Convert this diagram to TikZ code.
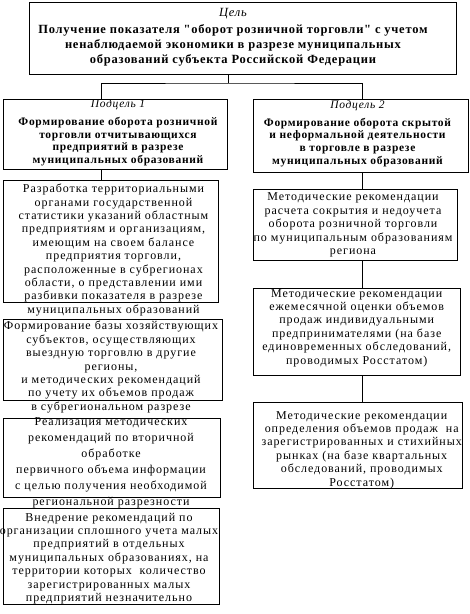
\documentclass[tikz,border=0pt]{standalone}
\usepackage{fontspec}
\setmainfont{Liberation Serif}
\newfontfamily\regfont[LetterSpace=8]{Liberation Serif}
\newfontfamily\boldsp[LetterSpace=6]{Liberation Serif}
\begin{document}
\begin{tikzpicture}[x=1pt,y=-1pt,
  boxst/.style={draw, line width=0.8pt, inner sep=0pt, rectangle},
  txt/.style={align=center, inner sep=0pt, font={\regfont\fontsize{12}{13.4}\selectfont}},
  modtxt/.style={align=center, inner sep=0pt, font={\boldsp\fontsize{11.5}{12.7}\selectfont}},
  conn/.style={line width=0.8pt}]
\useasboundingbox (0,0) rectangle (470,614);
% boxes
\node[boxst, minimum width=427pt, minimum height=72pt] (goal) at (242.5,38) {};
\node[boxst, minimum width=224pt, minimum height=70pt] (m1) at (115,134) {};
\node[boxst, minimum width=215pt, minimum height=73pt] (m2) at (360.5,135.5) {};
\node[boxst, minimum width=215pt, minimum height=122pt] (b1) at (110.5,241) {};
\node[boxst, minimum width=219pt, minimum height=81pt] (b2) at (112.5,359.5) {};
\node[boxst, minimum width=217pt, minimum height=79pt] (b3) at (111.5,457.5) {};
\node[boxst, minimum width=216pt, minimum height=96pt] (b4) at (111,556) {};
\node[boxst, minimum width=204pt, minimum height=71pt] (r1) at (355,224.5) {};
\node[boxst, minimum width=207pt, minimum height=87pt] (r2) at (356.5,331.5) {};
\node[boxst, minimum width=209pt, minimum height=86pt] (r3) at (357.5,445) {};
% texts
\node[align=center, inner sep=0pt, font={\boldsp\fontsize{12.5}{15}\selectfont}] (goaltxt) at (233,37.5)
  {\mdseries\itshape Цель\\[2pt]
   \bfseries Получение показателя "оборот розничной торговли" с учетом\\
   \bfseries ненаблюдаемой экономики в разрезе муниципальных\\
   \bfseries образований субъекта Российской Федерации};
\node[modtxt] (m1txt) at (118,133)
  {\mdseries\itshape Подцель 1\\[5pt]
   \bfseries Формирование оборота розничной\\
   \bfseries торговли отчитывающихся\\
   \bfseries предприятий в разрезе\\
   \bfseries муниципальных образований};
\node[modtxt] (m2txt) at (357.5,133.5)
  {\mdseries\itshape Подцель 2\\[5pt]
   \bfseries Формирование оборота скрытой\\
   \bfseries и неформальной деятельности\\
   \bfseries в торговле в разрезе\\
   \bfseries муниципальных образований};
\node[txt] (b1txt) at (113.5,250)
  {Разработка территориальными\\
   органами государственной\\
   статистики указаний областным\\
   предприятиям и организациям,\\
   имеющим на своем балансе\\
   предприятия торговли,\\
   расположенные в субрегионах\\
   области, о представлении ими\\
   разбивки показателя в разрезе\\
   муниципальных образований};
\node[txt] (b2txt) at (111,367)
  {Формирование базы хозяйствующих\\
   субъектов, осуществляющих\\
   выездную торговлю в другие\\
   регионы,\\
   и методических рекомендаций\\
   по учету их объемов продаж\\
   в субрегиональном разрезе};
\node[txt, font={\regfont\fontsize{12}{16}\selectfont}] (b3txt) at (111,463)
  {Реализация методических\\
   рекомендаций по вторичной\\
   обработке\\
   первичного объема информации\\
   с целью получения необходимой\\
   региональной разрезности};
\node[txt] (b4txt) at (109,558.5)
  {Внедрение рекомендаций по\\
   организации сплошного учета малых\\
   предприятий в отдельных\\
   муниципальных образованиях, на\\
   территории которых \ количество\\
   зарегистрированных малых\\
   предприятий незначительно};
\node[txt] (r1txt) at (353,225)
  {Методические рекомендации\\
   расчета сокрытия и недоучета\\
   оборота розничной торговли\\
   по муниципальным образованиям\\
   региона};
\node[txt] (r2txt) at (356.7,328)
  {Методические рекомендации\\
   ежемесячной оценки объемов\\
   продаж индивидуальными\\
   предпринимателями (на базе\\
   единовременных обследований,\\
   проводимых Росстатом)};
\node[txt] (r3txt) at (361.7,450)
  {Методические рекомендации\\
   определения объемов продаж \ на\\
   зарегистрированных и стихийных\\
   рынках (на базе квартальных\\
   обследований, проводимых\\
   Росстатом)};
% connectors
\coordinate (J) at (228,83);
\coordinate (L) at (101,0);
\coordinate (R) at (362,0);
\draw[conn] (goal.south -| J) -- (J);
\draw[conn] (m1.north -| L) |- (J) -| (m2.north -| R);
\draw[conn] (m1.south -| L) -- (b1.north -| L);
\draw[conn] (m2.south -| R) -- (r1.north -| R);
\draw[conn] (r1.south -| R) -- (r2.north -| R);
\draw[conn] (r2.south -| R) -- (r3.north -| R);
\end{tikzpicture}
\end{document}
